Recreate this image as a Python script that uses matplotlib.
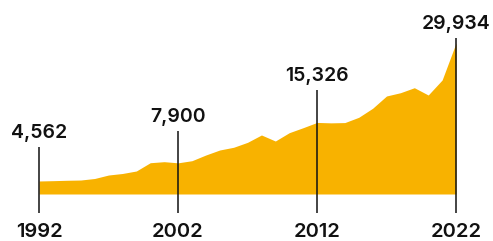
import matplotlib
matplotlib.use("Agg")
import matplotlib.pyplot as plt
import matplotlib.transforms as mtransforms

# ---- data ----
years = list(range(1992, 2023))
values = [4562, 4620, 4690, 4740, 5020, 5660, 5940, 6400, 7920, 8110,
          7900, 8290, 9340, 10260, 10760, 11670, 13020, 11910, 13440, 14360,
          15326, 15250, 15300, 16270, 17930, 20190, 20790, 21710, 20370, 23130,
          29934]
label_years = [1992, 2002, 2012, 2022]
label_values = [4562, 7900, 15326, 29934]
label_texts = ["4,562", "7,900", "15,326", "29,934"]
year_texts = ["1992", "2002", "2012", "2022"]

# ---- style / layout ----
FILL = "#F8B200"
DPI = 100
W, H = 493, 241
line_top_px = [34, 32, 32, 5]   # line top above data point (px)
label_gap_px = 9                # gap between label baseline and line top (px)
baseline_value = 2170

plt.rcParams['font.family'] = ['Inter', 'DejaVu Sans']

fig = plt.figure(figsize=(W / DPI, H / DPI), dpi=DPI)
ax = fig.add_axes([0, 0, 1, 1])
ax.set_xlim(1989.19, 2024.66)
ax.set_ylim(-6472, 37838)
ax.axis('off')

ax.fill_between(years, baseline_value, values, color=FILL, lw=0, zorder=1)

px2pt = 72 / DPI
blend = mtransforms.blended_transform_factory(ax.transData, ax.transAxes)
line_bottom_frac = 1 - 213.3 / H
year_base_frac = 1 - 237.3 / H

for yr, val, txt, ytxt, ltop in zip(label_years, label_values, label_texts,
                                    year_texts, line_top_px):
    disp_pt = ax.transData.transform((yr, val))
    top_disp_y = disp_pt[1] + ltop
    bottom_disp_y = ax.transAxes.transform((0, line_bottom_frac))[1]
    inv = ax.transData.inverted()
    y_top = inv.transform((disp_pt[0], top_disp_y))[1]
    y_bot = inv.transform((disp_pt[0], bottom_disp_y))[1]
    ax.plot([yr, yr], [y_bot, y_top], color="#111111", lw=1.1, zorder=3,
            solid_capstyle='butt')
    ax.annotate(txt, xy=(yr, val), xytext=(0, (ltop + label_gap_px) * px2pt),
                textcoords='offset points', ha='center', va='baseline',
                fontsize=14, fontweight='semibold', color="#111111")
    ax.text(yr, year_base_frac, ytxt, transform=blend, ha='center',
            va='baseline', fontsize=14.5, fontweight='semibold', color="#111111")

fig.savefig("out.png", dpi=DPI)
